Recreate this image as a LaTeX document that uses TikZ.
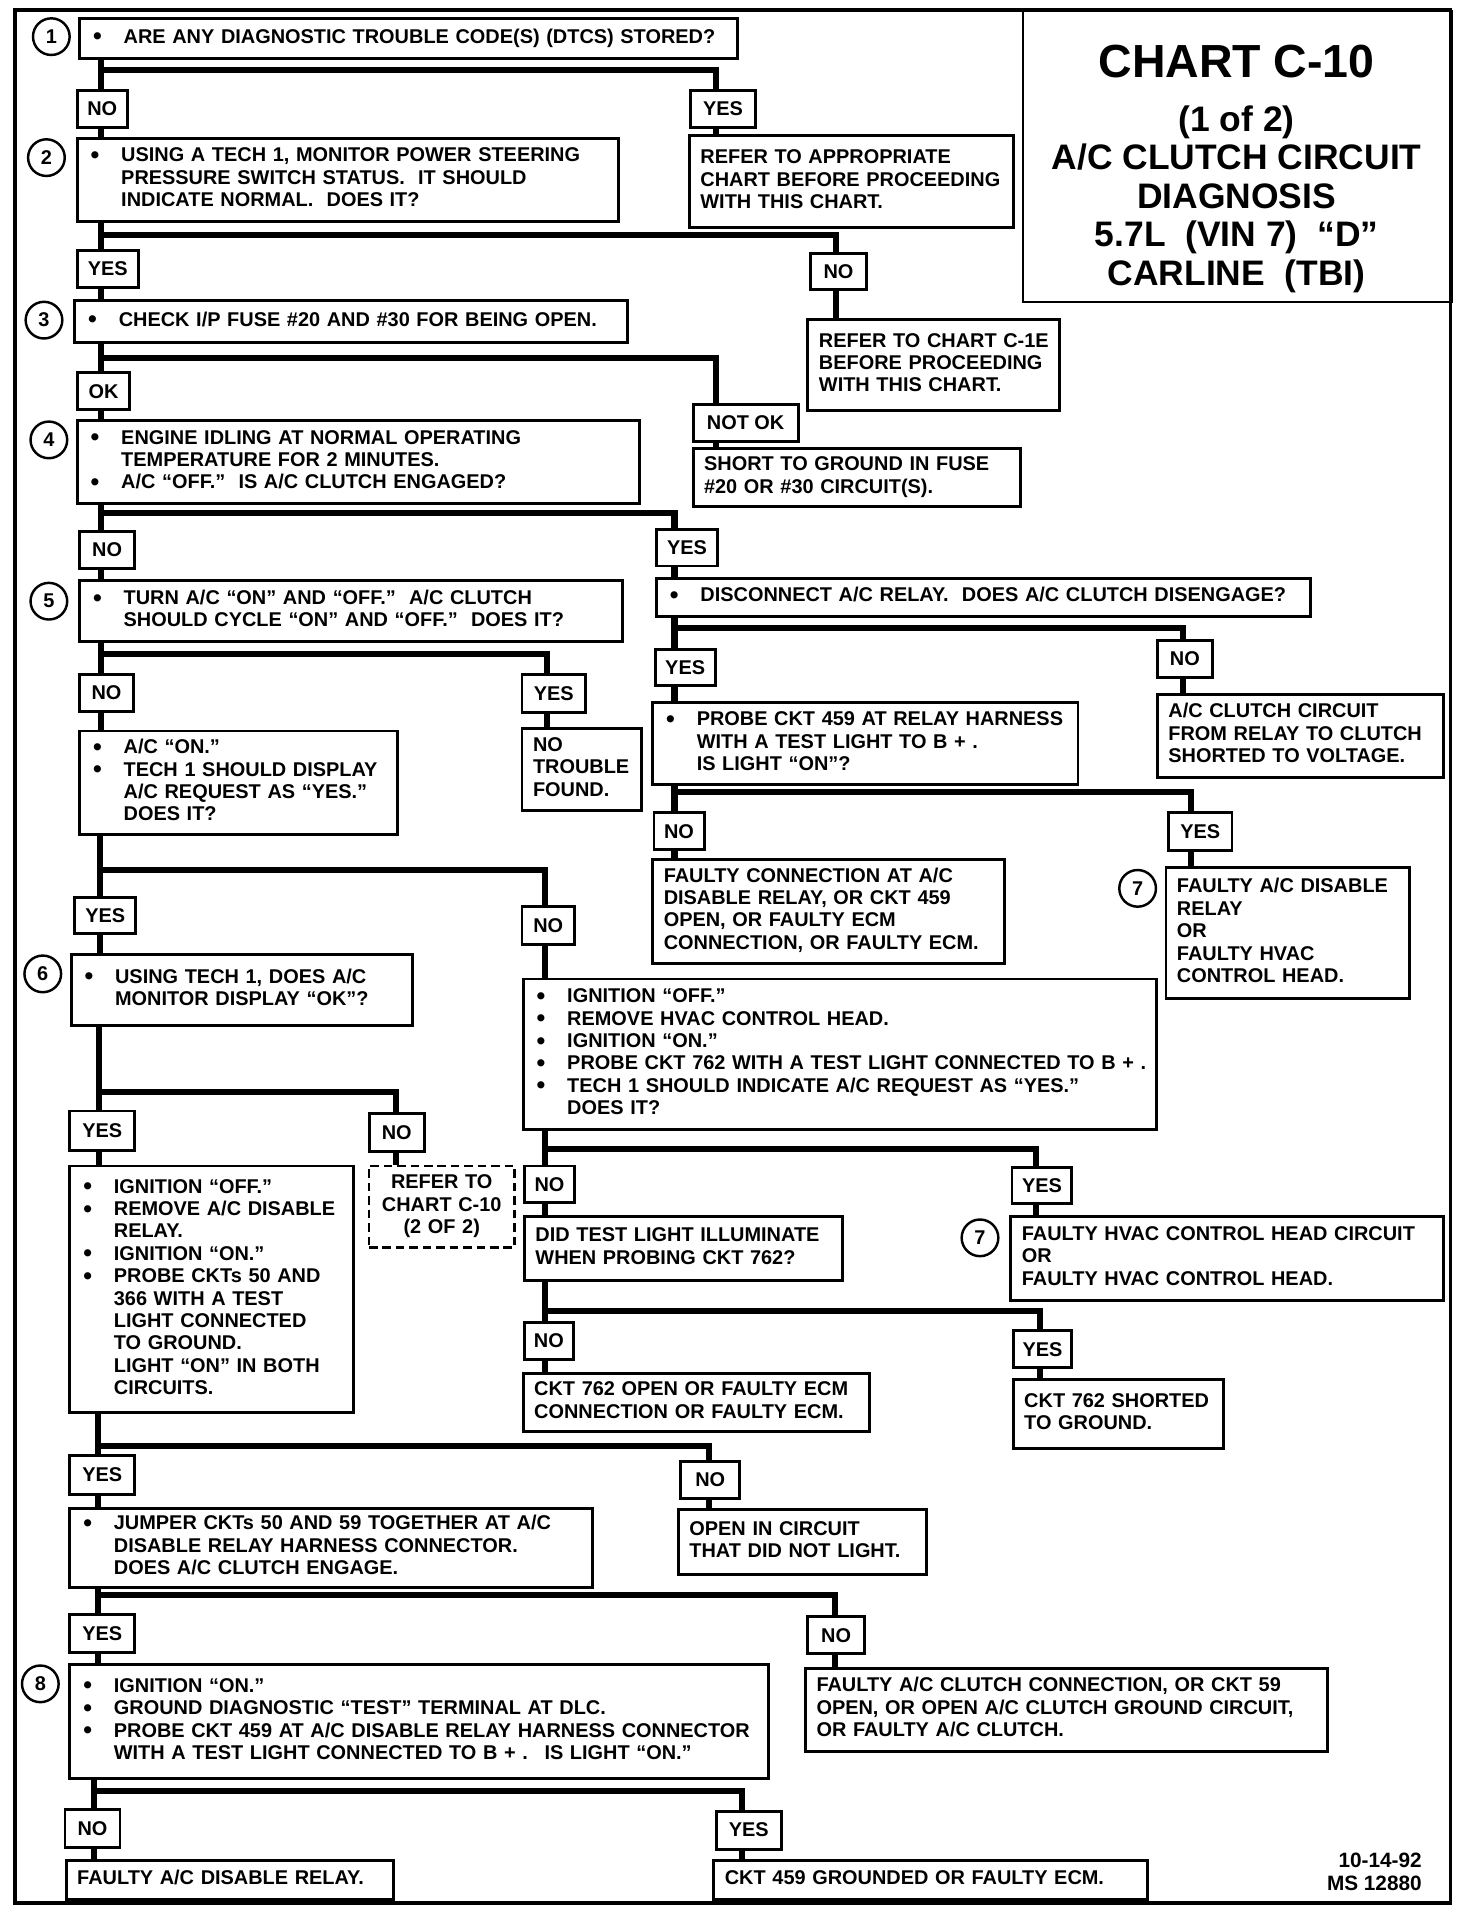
\documentclass[tikz,border=0pt]{standalone}
\usepackage{fontspec}
\setmainfont{Liberation Sans}
\setlength{\parindent}{0pt}
\newenvironment{blist}{\begin{tabular}{@{}p{27pt}@{}l@{}}}{\end{tabular}}
\newcommand\bu{\hspace*{2pt}\raisebox{-0.08em}{\scalebox{1.25}{\textbullet}}}
\newcommand\Tl[1]{\begin{tabular}{@{}l@{}}#1\end{tabular}}
\newcommand\Tc[1]{\begin{tabular}{@{}c@{}}#1\end{tabular}}
\newcommand\Qbox[7][]{%
  \pgfmathsetmacro\qbw{#5-#3}%
  \pgfmathsetmacro\qbh{#6-#4}%
  \pgfmathsetmacro\qtw{#5-#3-18}%
  \node[qbox,minimum width=\qbw pt,minimum height=\qbh pt,text width=\qtw pt,anchor=north west,#1] (#2) at (#3,#4) {#7};}
\newcommand\Lbox[6]{%
  \pgfmathsetmacro\qbw{#4-#2}%
  \pgfmathsetmacro\qbh{#5-#3}%
  \node[lab,minimum width=\qbw pt,minimum height=\qbh pt,anchor=north west] (#1) at (#2,#3) {#6};}
\newcommand\Brn[6]{%
  \coordinate (tx) at (#2,0);
  \coordinate (rx) at (#4,#3);
  \draw[conn] (#1.south -| tx) -- (#5.north -| tx);
  \draw[conn] (#1.south -| tx) |- (rx) -- (#6.north -| rx);}
\newcommand\Lnk[3]{%
  \coordinate (tx) at (#2,0);
  \draw[conn] (#1.south -| tx) -- (#3.north -| tx);}
\begin{document}
\begin{tikzpicture}[x=1pt,y=-1pt,font=\fontsize{16.3}{18.3}\selectfont\bfseries,
  qbox/.style={draw,line width=2.4pt,inner xsep=9pt,inner ysep=1pt,align=left},
  lab/.style={draw,line width=2.4pt,inner sep=0pt,align=center},
  conn/.style={line width=5pt},
  num/.style={draw,circle,line width=2pt,minimum size=30pt,inner sep=0pt},
  line join=miter]
\useasboundingbox (0,0) rectangle (1205,1568);
\draw[line width=3.2pt] (12,8) rectangle (1187,1557);
% title
\node[draw,line width=2pt,minimum width=351pt,minimum height=238pt,anchor=north west,inner sep=0pt] (tb) at (836,8) {};
\node[font=\fontsize{38}{40}\selectfont\bfseries] (tt) at (1012,50) {CHART C-10};
\node[align=center,font=\fontsize{29}{31.5}\selectfont\bfseries] (ts) at (1012,163) {(1 of 2)\\A/C CLUTCH CIRCUIT\\DIAGNOSIS\\5.7L~ (VIN 7)~ “D”\\CARLINE~ (TBI)};
% circles
\node[num] (c1) at (42,30) {1};
\node[num] (c2) at (38,129) {2};
\node[num] (c3) at (36,262) {3};
\node[num] (c4) at (40,360) {4};
\node[num] (c5) at (40,492) {5};
\node[num] (c6) at (35,797) {6};
\node[num] (c7a) at (931,727) {7};
\node[num] (c7b) at (802,1013) {7};
\node[num] (c8) at (33,1378) {8};
% boxes
\Qbox{q1}{64}{14}{602}{47}{\begin{blist}\bu & ARE ANY DIAGNOSTIC TROUBLE CODE(S) (DTCS) STORED?\end{blist}}
\Lbox{no1}{62}{73}{103}{103}{NO}
\Lbox{yes1}{564}{73}{617}{103}{YES}
\Qbox{q2}{62}{112}{505}{180}{\begin{blist}\bu & USING A TECH 1, MONITOR POWER STEERING\\ & PRESSURE SWITCH STATUS.~ IT SHOULD\\ & INDICATE NORMAL.~ DOES IT?\end{blist}}
\Qbox{r1}{563}{110}{828}{185}{\Tl{REFER TO APPROPRIATE\\CHART BEFORE PROCEEDING\\WITH THIS CHART.}}
\Lbox{yes2}{62}{204}{112}{234}{YES}
\Lbox{no2}{662}{206}{708}{236}{NO}
\Qbox{r2}{660}{260}{866}{335}{\Tl{REFER TO CHART C-1E\\BEFORE PROCEEDING\\WITH THIS CHART.}}
\Qbox{q3}{60}{245}{512}{279}{\begin{blist}\bu & CHECK I/P FUSE \#20 AND \#30 FOR BEING OPEN.\end{blist}}
\Lbox{ok3}{62}{304}{105}{334}{OK}
\Lbox{nok3}{566}{330}{652}{360}{NOT OK}
\Qbox{r3}{566}{366}{834}{413}{\Tl{SHORT TO GROUND IN FUSE\\\#20 OR \#30 CIRCUIT(S).}}
\Qbox{q4}{62}{343}{522}{411}{\begin{blist}\bu & ENGINE IDLING AT NORMAL OPERATING\\ & TEMPERATURE FOR 2 MINUTES.\\ \bu & A/C “OFF.”~ IS A/C CLUTCH ENGAGED?\end{blist}}
\Lbox{no4}{64}{434}{109}{464}{NO}
\Lbox{yes4}{536}{432}{586}{462}{YES}
\Qbox{q5}{64}{474}{508}{524}{\begin{blist}\bu & TURN A/C “ON” AND “OFF.”~ A/C CLUTCH\\ & SHOULD CYCLE “ON” AND “OFF.”~ DOES IT?\end{blist}}
\Qbox{q5r}{536}{472}{1071}{503}{\begin{blist}\bu & DISCONNECT A/C RELAY.~ DOES A/C CLUTCH DISENGAGE?\end{blist}}
\Lbox{no5}{64}{551}{108}{581}{NO}
\Lbox{yes5}{426}{551}{478}{582}{YES}
\Qbox{r5}{426}{595}{524}{662}{\Tl{NO\\TROUBLE\\FOUND.}}
\Qbox{q5a}{64}{597}{324}{682}{\begin{blist}\bu & A/C “ON.”\\ \bu & TECH 1 SHOULD DISPLAY\\ & A/C REQUEST AS “YES.”\\ & DOES IT?\end{blist}}
\Lbox{yesd}{535}{530}{584}{560}{YES}
\Lbox{nod}{946}{523}{991}{553}{NO}
\Qbox{rd}{946}{567}{1180}{635}{\Tl{A/C CLUTCH CIRCUIT\\FROM RELAY TO CLUTCH\\SHORTED TO VOLTAGE.}}
\Qbox{qp}{533}{574}{881}{641}{\begin{blist}\bu & PROBE CKT 459 AT RELAY HARNESS\\ & WITH A TEST LIGHT TO B + .\\ & IS LIGHT “ON”?\end{blist}}
\Lbox{nop}{534}{664}{575}{694}{NO}
\Lbox{yesp}{955}{664}{1007}{695}{YES}
\Qbox{rp1}{533}{702}{821}{787}{\Tl{FAULTY CONNECTION AT A/C\\DISABLE RELAY, OR CKT 459\\OPEN, OR FAULTY ECM\\CONNECTION, OR FAULTY ECM.}}
\Qbox{rp2}{953}{709}{1152}{816}{\Tl{FAULTY A/C DISABLE\\RELAY\\OR\\FAULTY HVAC\\CONTROL HEAD.}}
\Lbox{yes5a}{60}{733}{110}{763}{YES}
\Lbox{no5a}{426}{741}{469}{772}{NO}
\Qbox{q6}{57}{780}{336}{838}{\begin{blist}\bu & USING TECH 1, DOES A/C\\ & MONITOR DISPLAY “OK”?\end{blist}}
\Qbox{qh}{427}{800}{945}{923}{\begin{blist}\bu & IGNITION “OFF.”\\ \bu & REMOVE HVAC CONTROL HEAD.\\ \bu & IGNITION “ON.”\\ \bu & PROBE CKT 762 WITH A TEST LIGHT CONNECTED TO B + .\\ \bu & TECH 1 SHOULD INDICATE A/C REQUEST AS “YES.”\\ & DOES IT?\end{blist}}
\Lbox{yes6}{56}{908}{109}{940}{YES}
\Lbox{no6}{301}{910}{346}{941}{NO}
\Qbox{q6a}{56}{953}{288}{1155}{\begin{blist}\bu & IGNITION “OFF.”\\ \bu & REMOVE A/C DISABLE\\ & RELAY.\\ \bu & IGNITION “ON.”\\ \bu & PROBE CKTs 50 AND\\ & 366 WITH A TEST\\ & LIGHT CONNECTED\\ & TO GROUND.\\ & LIGHT “ON” IN BOTH\\ & CIRCUITS.\end{blist}}
\Qbox[dashed,dash pattern=on 7pt off 4pt,line width=2pt,align=center]{r6}{301}{953}{420}{1020}{\Tc{REFER TO\\CHART C-10\\(2 OF 2)}}
\Lbox{noh}{428}{953}{469}{983}{NO}
\Lbox{yesh}{827}{954}{876}{984}{YES}
\Qbox{qd}{428}{994}{688}{1047}{\Tl{DID TEST LIGHT ILLUMINATE\\WHEN PROBING CKT 762?}}
\Qbox{rh}{826}{994}{1180}{1063}{\Tl{FAULTY HVAC CONTROL HEAD CIRCUIT\\OR\\FAULTY HVAC CONTROL HEAD.}}
\Lbox{nod2}{428}{1081}{468}{1111}{NO}
\Lbox{yesd2}{828}{1088}{876}{1118}{YES}
\Qbox{rd2a}{427}{1123}{710}{1170}{\Tl{CKT 762 OPEN OR FAULTY ECM\\CONNECTION OR FAULTY ECM.}}
\Qbox{rd2b}{828}{1128}{1000}{1184}{\Tl{CKT 762 SHORTED\\TO GROUND.}}
\Lbox{yes6a}{56}{1190}{109}{1222}{YES}
\Lbox{no6a}{556}{1195}{604}{1225}{NO}
\Qbox{r6a}{554}{1234}{757}{1287}{\Tl{OPEN IN CIRCUIT\\THAT DID NOT LIGHT.}}
\Qbox{q7}{56}{1233}{484}{1298}{\begin{blist}\bu & JUMPER CKTs 50 AND 59 TOGETHER AT A/C\\ & DISABLE RELAY HARNESS CONNECTOR.\\ & DOES A/C CLUTCH ENGAGE.\end{blist}}
\Lbox{yes7}{56}{1320}{109}{1351}{YES}
\Lbox{no7}{660}{1322}{706}{1352}{NO}
\Qbox{r7}{658}{1364}{1085}{1432}{\Tl{FAULTY A/C CLUTCH CONNECTION, OR CKT 59\\OPEN, OR OPEN A/C CLUTCH GROUND CIRCUIT,\\OR FAULTY A/C CLUTCH.}}
\Qbox{q8}{56}{1361}{628}{1454}{\begin{blist}\bu & IGNITION “ON.”\\ \bu & GROUND DIAGNOSTIC “TEST” TERMINAL AT DLC.\\ \bu & PROBE CKT 459 AT A/C DISABLE RELAY HARNESS CONNECTOR\\ & WITH A TEST LIGHT CONNECTED TO B + .~ IS LIGHT “ON.”\end{blist}}
\Lbox{no8}{52}{1480}{97}{1511}{NO}
\Lbox{yes8}{585}{1481}{638}{1512}{YES}
\Qbox{r8a}{53}{1521}{321}{1553}{\Tl{FAULTY A/C DISABLE RELAY.}}
\Qbox{r8b}{583}{1521}{938}{1553}{\Tl{CKT 459 GROUNDED OR FAULTY ECM.}}
\node[align=right,anchor=east,font=\fontsize{17}{18.5}\selectfont\bfseries] (ft) at (1167,1532) {10-14-92\\MS 12880};
% connectors
\Brn{q1}{83}{57}{586}{no1}{yes1}
\Lnk{no1}{83}{q2}\Lnk{yes1}{586}{r1}
\Brn{q2}{83}{192}{684}{yes2}{no2}
\Lnk{yes2}{83}{q3}\Lnk{no2}{684}{r2}
\Brn{q3}{83}{293}{586}{ok3}{nok3}
\Lnk{ok3}{83}{q4}\Lnk{nok3}{586}{r3}
\Brn{q4}{83}{420}{552}{no4}{yes4}
\Lnk{no4}{83}{q5}\Lnk{yes4}{552}{q5r}
\Brn{q5}{83}{535}{448}{no5}{yes5}
\Lnk{no5}{83}{q5a}\Lnk{yes5}{448}{r5}
\Brn{q5r}{552}{514}{968}{yesd}{nod}
\Lnk{yesd}{552}{qp}\Lnk{nod}{968}{rd}
\Brn{qp}{552}{648}{975}{nop}{yesp}
\Lnk{nop}{552}{rp1}\Lnk{yesp}{975}{rp2}
\Brn{q5a}{82}{712}{446}{yes5a}{no5a}
\Lnk{yes5a}{82}{q6}\Lnk{no5a}{446}{qh}
\Brn{q6}{81}{894}{324}{yes6}{no6}
\Lnk{yes6}{81}{q6a}\Lnk{no6}{324}{r6}
\Brn{qh}{446}{940}{848}{noh}{yesh}
\Lnk{noh}{446}{qd}\Lnk{yesh}{848}{rh}
\Brn{qd}{446}{1073}{851}{nod2}{yesd2}
\Lnk{nod2}{446}{rd2a}\Lnk{yesd2}{851}{rd2b}
\Brn{q6a}{80}{1183}{580}{yes6a}{no6a}
\Lnk{yes6a}{80}{q7}\Lnk{no6a}{580}{r6a}
\Brn{q7}{80}{1305}{683}{yes7}{no7}
\Lnk{yes7}{80}{q8}\Lnk{no7}{683}{r7}
\Brn{q8}{77}{1466}{607}{no8}{yes8}
\Lnk{no8}{77}{r8a}\Lnk{yes8}{607}{r8b}
\end{tikzpicture}
\end{document}
